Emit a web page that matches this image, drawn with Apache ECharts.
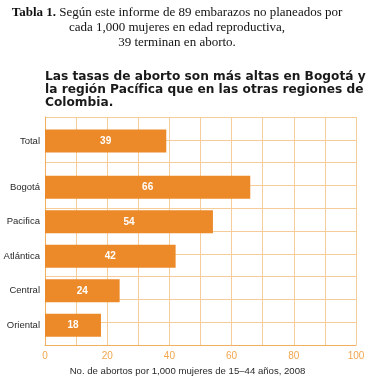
<!DOCTYPE html>
<html lang="es">
<head>
  <meta charset="UTF-8">
  <title>Tasas de aborto</title>
  <script src="https://cdn.jsdelivr.net/npm/echarts@6/dist/echarts.min.js"></script>
  <style>
    html, body { margin: 0; padding: 0; background: #fff; }
  </style>
</head>
<body>
  <div id="app" style="width: 371px; height: 381px;"></div>
  <script>
    // datos
    var totalLabel = ['Total']
    var totalValue = [39]
    var regiones = ['Bogotá', 'Pacifica', 'Atlántica', 'Central', 'Oriental']
    var valores = [66, 54, 42, 24, 18]
    var xTicks = [0, 20, 40, 60, 80, 100]

    var naranja = '#EC8A2A'
    var lineaGrid = '#F6CD98'

    var mCharts = echarts.init(document.querySelector('#app'))

    var hiddenX = function (idx) {
      return { type: 'value', gridIndex: idx, min: 0, max: 100, show: false }
    }
    var catY = function (idx, data) {
      return {
        type: 'category', gridIndex: idx, data: data, inverse: true,
        axisLine: { show: false }, axisTick: { show: false },
        axisLabel: { color: '#2a2a2a', fontSize: 9.5, margin: 5, fontFamily: 'Liberation Sans' }
      }
    }
    var barStyle = {
      type: 'bar', barWidth: 23,
      itemStyle: { color: naranja },
      label: { show: true, position: 'inside', color: '#fff', fontWeight: 'bold', fontSize: 10, fontFamily: 'Liberation Sans' }
    }

    var option = {
      animation: false,
      title: [
        {
          left: 172, top: 0, textAlign: 'center',
          text: '{b|Tabla 1. }{n|Según este informe de 89 embarazos no planeados por}\n{n|cada 1,000 mujeres en edad reproductiva,}\n{n|39 terminan en aborto.}',
          textStyle: {
            fontSize: 13, fontFamily: 'Liberation Serif', fontWeight: 'normal',
            rich: {
              b: { fontFamily: 'Liberation Serif', fontSize: 13, fontWeight: 'bold', color: '#111', lineHeight: 15 },
              n: { fontFamily: 'Liberation Serif', fontSize: 13, fontWeight: 'normal', color: '#111', lineHeight: 15 }
            }
          }
        },
        {
          left: 40, top: 65,
          text: 'Las tasas de aborto son más altas en Bogotá y\nla región Pacífica que en las otras regiones de\nColombia.',
          textStyle: { fontFamily: 'DejaVu Sans', fontSize: 12.2, fontWeight: 'bold', color: '#1a1a1a', lineHeight: 13.3 }
        }
      ],
      grid: [
        { left: 45, top: 117, width: 311, height: 230 },
        { left: 45, top: 118, width: 311, height: 46 },
        { left: 45, top: 170, width: 311, height: 172.5 }
      ],
      xAxis: [
        {
          type: 'value', gridIndex: 0, min: 0, max: 100, interval: 10,
          name: 'No. de abortos por 1,000 mujeres de 15–44 años, 2008',
          nameLocation: 'middle', nameGap: 20,
          nameTextStyle: { color: '#2a2a2a', fontSize: 9.6, fontFamily: 'Liberation Sans', padding: [0, 26, 0, 0] },
          axisLine: { lineStyle: { color: '#F0B060', width: 1 } },
          axisTick: { show: false },
          axisLabel: {
            color: '#F2A650', fontSize: 10, margin: 6, fontFamily: 'Liberation Sans',
            formatter: function (v) { return xTicks.indexOf(v) >= 0 ? String(v) : '' }
          },
          splitLine: { lineStyle: { color: lineaGrid, width: 1 } }
        },
        hiddenX(1),
        hiddenX(2)
      ],
      yAxis: [
        {
          type: 'value', gridIndex: 0, min: 0, max: 10, interval: 1,
          axisLine: { show: true, lineStyle: { color: '#F0B060' } },
          axisTick: { show: false }, axisLabel: { show: false },
          splitLine: { lineStyle: { color: lineaGrid, width: 1 } }
        },
        catY(1, totalLabel),
        catY(2, regiones)
      ],
      series: [
        Object.assign({}, barStyle, { xAxisIndex: 1, yAxisIndex: 1, data: totalValue }),
        Object.assign({}, barStyle, { xAxisIndex: 2, yAxisIndex: 2, data: valores })
      ]
    }
    mCharts.setOption(option)
  </script>
</body>
</html>
